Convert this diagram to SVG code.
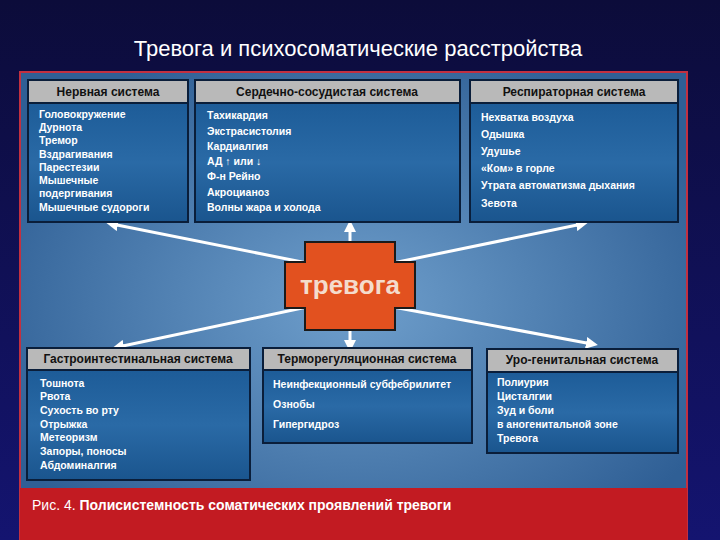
<svg xmlns="http://www.w3.org/2000/svg" width="720" height="540" viewBox="0 0 720 540">
<defs>
<radialGradient id="bg" cx="0.5" cy="0.5" r="0.6"><stop offset="0" stop-color="#6f9fcc"/><stop offset="1" stop-color="#2f5f95"/></radialGradient>
<linearGradient id="body" x1="0" y1="0" x2="0" y2="1"><stop offset="0" stop-color="#1d5c98"/><stop offset="0.5" stop-color="#2a6aa6"/><stop offset="1" stop-color="#1a558e"/></linearGradient>
<linearGradient id="sky" x1="0" y1="0" x2="0" y2="1"><stop offset="0" stop-color="#0c0c3a"/><stop offset="1" stop-color="#141470"/></linearGradient>
<marker id="ah" viewBox="0 0 10 10" refX="5" refY="5" markerWidth="4" markerHeight="4" orient="auto"><path d="M0,0L10,5L0,10z" fill="#fff"/></marker>
<style>
.hd{fill:#b9b9b9;stroke:#0a1e3a;stroke-width:2}
.bd{fill:url(#body);stroke:#0a1e3a;stroke-width:2}
.ht{font-family:"Liberation Sans",Arial,sans-serif;font-weight:bold;font-size:12px;fill:#111;text-anchor:middle}
.it{font-family:"Liberation Sans",Arial,sans-serif;font-weight:bold;font-size:10.5px;fill:#fff}
.ln{stroke:#fff;stroke-width:3;fill:none}
</style>
</defs>
<rect width="720" height="540" fill="url(#sky)"/>
<text x="358" y="56" font-family="Liberation Sans,Arial,sans-serif" font-size="22" fill="#fff" text-anchor="middle">Тревога и психосоматические расстройства</text>
<rect x="20" y="72" width="667" height="470" fill="url(#bg)" stroke="#c23040" stroke-width="2"/>
<rect x="20" y="488" width="667" height="52" fill="#c21b22"/>
<text x="32" y="510" font-family="Liberation Sans,Arial,sans-serif" font-size="14" fill="#fff">Рис. 4. <tspan font-weight="bold">Полисистемность соматических проявлений тревоги</tspan></text>
<g id="connectors">
<line class="ln" x1="307" y1="263" x2="112" y2="224" marker-end="url(#ah)"/>
<line class="ln" x1="393" y1="263" x2="582" y2="224" marker-end="url(#ah)"/>
<line class="ln" x1="307" y1="307" x2="118" y2="347" marker-end="url(#ah)"/>
<line class="ln" x1="393" y1="307" x2="592" y2="344" marker-end="url(#ah)"/>
<line class="ln" x1="350" y1="242" x2="350" y2="226" marker-end="url(#ah)"/>
<line class="ln" x1="350" y1="330" x2="350" y2="346" marker-end="url(#ah)"/>
</g>
<g id="center">
<path d="M305,242H395V262H415V308H395V330H305V308H285V262H305Z" fill="#e2511f" stroke="#1a1a1a" stroke-width="2"/>
<text x="350" y="294" font-family="Liberation Sans,Arial,sans-serif" font-weight="bold" font-size="26" fill="#f4dccc" text-anchor="middle">тревога</text>
</g>
<g id="nerv">
<rect class="bd" x="28" y="103" width="160" height="119"/><rect class="hd" x="28" y="80" width="160" height="23"/>
<text class="ht" x="108" y="96">Нервная система</text>
<text class="it" x="39" y="118">Головокружение</text><text class="it" x="39" y="131">Дурнота</text><text class="it" x="39" y="144">Тремор</text><text class="it" x="39" y="158">Вздрагивания</text><text class="it" x="39" y="171">Парестезии</text><text class="it" x="39" y="184">Мышечные</text><text class="it" x="39" y="197">подергивания</text><text class="it" x="39" y="211">Мышечные судороги</text>
</g>
<g id="cardio">
<rect class="bd" x="195" y="103" width="265" height="119"/><rect class="hd" x="195" y="80" width="265" height="23"/>
<text class="ht" x="327" y="96">Сердечно-сосудистая система</text>
<text class="it" x="207" y="119">Тахикардия</text><text class="it" x="207" y="135">Экстрасистолия</text><text class="it" x="207" y="150">Кардиалгия</text><text class="it" x="207" y="165">АД ↑ или ↓</text><text class="it" x="207" y="180">Ф-н Рейно</text><text class="it" x="207" y="196">Акроцианоз</text><text class="it" x="207" y="211">Волны жара и холода</text>
</g>
<g id="resp">
<rect class="bd" x="470" y="103" width="208" height="119"/><rect class="hd" x="470" y="80" width="208" height="23"/>
<text class="ht" x="574" y="96">Респираторная система</text>
<text class="it" x="481" y="121">Нехватка воздуха</text><text class="it" x="481" y="138">Одышка</text><text class="it" x="481" y="155">Удушье</text><text class="it" x="481" y="172">«Ком» в горле</text><text class="it" x="481" y="189">Утрата автоматизма дыхания</text><text class="it" x="481" y="207">Зевота</text>
</g>
<g id="gastro">
<rect class="bd" x="27" y="370" width="223" height="110"/><rect class="hd" x="27" y="348" width="223" height="22"/>
<text class="ht" x="138" y="363">Гастроинтестинальная система</text>
<text class="it" x="40" y="387">Тошнота</text><text class="it" x="40" y="400">Рвота</text><text class="it" x="40" y="414">Сухость во рту</text><text class="it" x="40" y="428">Отрыжка</text><text class="it" x="40" y="441">Метеоризм</text><text class="it" x="40" y="455">Запоры, поносы</text><text class="it" x="40" y="469">Абдоминалгия</text>
</g>
<g id="thermo">
<rect class="bd" x="263" y="370" width="209" height="73"/><rect class="hd" x="263" y="348" width="209" height="22"/>
<text class="ht" x="367" y="363">Терморегуляционная система</text>
<text class="it" x="273" y="388">Неинфекционный субфебрилитет</text><text class="it" x="273" y="408">Ознобы</text><text class="it" x="273" y="428">Гипергидроз</text>
</g>
<g id="uro">
<rect class="bd" x="487" y="372" width="191" height="81"/><rect class="hd" x="487" y="349" width="191" height="23"/>
<text class="ht" x="582" y="364">Уро-генитальная система</text>
<text class="it" x="497" y="386">Полиурия</text><text class="it" x="497" y="400">Цисталгии</text><text class="it" x="497" y="414">Зуд и боли</text><text class="it" x="497" y="428">в аногенитальной зоне</text><text class="it" x="497" y="442">Тревога</text>
</g>
</svg>
